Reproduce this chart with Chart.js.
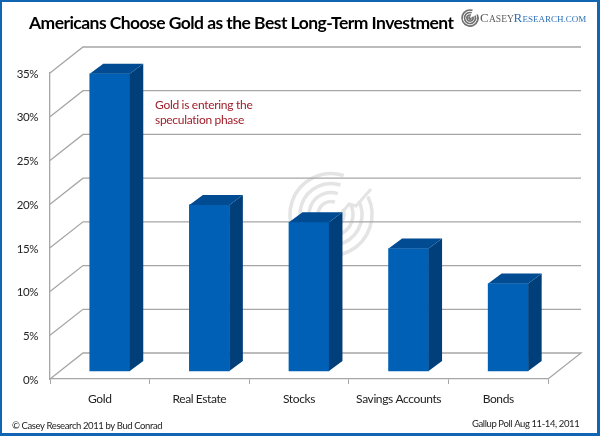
<!DOCTYPE html>
<html>
<head>
<meta charset="utf-8">
<script src="https://cdn.jsdelivr.net/npm/chart.js@4/dist/chart.umd.min.js"></script>
<style>
html, body { margin: 0; padding: 0; background: #fff; }
#wrap { width: 600px; height: 436px; }
canvas { display: block; }
</style>
</head>
<body>
<div id="wrap"><canvas id="goldChart" width="600" height="436"></canvas></div>
<script>
const categories = ['Gold', 'Real Estate', 'Stocks', 'Savings Accounts', 'Bonds'];
const shares = [34, 19, 17, 14, 10];
const yTicks = [0, 5, 10, 15, 20, 25, 30, 35];

const titleText = 'Americans Choose Gold as the Best Long-Term Investment';
const noteLines = ['Gold is entering the', 'speculation phase'];
const copyright = '\u00A9 Casey Research 2011 by Bud Conrad';
const source = 'Gallup Poll Aug 11-14, 2011';

const FONT = 'Lato, Carlito, "Open Sans", sans-serif';
const GRID = '#a6a6a6';
const WATERMARK = '#e4e4e4';
// the fake 3d: how far the back wall sits behind the front edge
const WALL_DX = 33;
const WALL_DY = 26;
const BAR_DX = 13.5;
const BAR_DY = 10;

function rings(ctx, cx, cy, radii, width, color) {
    ctx.strokeStyle = color;
    ctx.lineWidth = width;
    radii.forEach(function(r) {
        ctx.beginPath();
        ctx.arc(cx, cy, r, -0.144 * Math.PI, 1.6 * Math.PI);
        ctx.stroke();
    });
}

const background3d = {
    id: 'background3d',
    beforeDraw(chart) {
        // Lato runs wider than the original font
        chart.ctx.letterSpacing = '-0.4px';
    },
    beforeDatasetsDraw(chart) {
        const ctx = chart.ctx;
        const y = chart.scales.y;
        const a = chart.chartArea;
        ctx.save();

        // watermark behind the bars
        rings(ctx, 331, 214.5, [41, 31, 22, 13], 3.5, WATERMARK);
        ctx.strokeStyle = WATERMARK;
        ctx.lineWidth = 3;
        ctx.beginPath();
        ctx.moveTo(338, 218);
        ctx.lineTo(349, 204);
        ctx.lineTo(356, 206);
        ctx.lineTo(371, 189);
        ctx.stroke();

        // side wall diagonals and back wall lines
        ctx.strokeStyle = GRID;
        ctx.lineWidth = 1.3;
        yTicks.forEach(function(t) {
            const py = y.getPixelForValue(t);
            ctx.beginPath();
            ctx.moveTo(a.left, py);
            ctx.lineTo(a.left + WALL_DX, py - WALL_DY);
            ctx.lineTo(a.right + WALL_DX, py - WALL_DY);
            if (t === 0) ctx.lineTo(a.right, py);
            ctx.stroke();
        });
        ctx.restore();
    }
};

const barDepth = {
    id: 'barDepth',
    afterDatasetsDraw(chart) {
        const ctx = chart.ctx;
        chart.getDatasetMeta(0).data.forEach(function(bar) {
            const l = bar.x - bar.width / 2;
            const r = bar.x + bar.width / 2;
            ctx.fillStyle = '#003f7a';
            ctx.beginPath();
            ctx.moveTo(r, bar.y);
            ctx.lineTo(r + BAR_DX, bar.y - BAR_DY);
            ctx.lineTo(r + BAR_DX, bar.base - BAR_DY);
            ctx.lineTo(r, bar.base);
            ctx.closePath();
            ctx.fill();
            ctx.fillStyle = '#004b92';
            ctx.beginPath();
            ctx.moveTo(l, bar.y);
            ctx.lineTo(l + BAR_DX, bar.y - BAR_DY);
            ctx.lineTo(r + BAR_DX, bar.y - BAR_DY);
            ctx.lineTo(r, bar.y);
            ctx.closePath();
            ctx.fill();
        });
    }
};

const decorations = {
    id: 'decorations',
    afterDraw(chart) {
        const ctx = chart.ctx;
        ctx.save();
        ctx.textBaseline = 'alphabetic';
        ctx.textAlign = 'left';

        ctx.fillStyle = '#000';
        ctx.font = 'bold 17.5px ' + FONT;
        ctx.letterSpacing = '-0.55px';
        ctx.fillText(titleText, 29, 29);

        ctx.letterSpacing = '-0.3px';
        ctx.fillStyle = '#a0202c';
        ctx.font = '12px ' + FONT;
        ctx.fillText(noteLines[0], 155, 109);
        ctx.fillText(noteLines[1], 155, 124);

        ctx.letterSpacing = '-0.4px';
        ctx.fillStyle = '#222';
        ctx.font = '9.5px ' + FONT;
        ctx.fillText(copyright, 12, 429);
        ctx.fillText(source, 472, 427);

        // logo, top right
        ctx.letterSpacing = '0px';
        rings(ctx, 470, 18, [8, 5.5, 3, 1], 1.7, '#707070');
        ctx.font = '13px "Liberation Serif", serif';
        ctx.fillStyle = '#5c5c5c';
        ctx.fillText('C', 480, 22);
        ctx.font = '9.5px "Liberation Serif", serif';
        ctx.fillText('ASEY', 489, 22);
        ctx.fillStyle = '#2f72b8';
        ctx.font = '13px "Liberation Serif", serif';
        ctx.fillText('R', 513.5, 22);
        ctx.font = '9px "Liberation Serif", serif';
        ctx.fillText('ESEARCH.COM', 522.5, 22);

        // frame, a little heavier on the right and bottom
        ctx.fillStyle = '#1165b2';
        ctx.fillRect(0, 0, 600, 2);
        ctx.fillRect(0, 0, 2, 436);
        ctx.fillRect(597, 0, 3, 436);
        ctx.fillRect(0, 433, 600, 3);
        ctx.restore();
    }
};

new Chart(document.getElementById('goldChart').getContext('2d'), {
    type: 'bar',
    data: {
        labels: categories,
        datasets: [{
            label: 'Share',
            data: shares.map(function(v, i) { return { x: i, y: v }; }),
            xAxisID: 'xBars',
            yAxisID: 'yBars',
            backgroundColor: '#0060b5',
            barThickness: 40,
            borderWidth: 0
        }]
    },
    plugins: [background3d, barDepth, decorations],
    options: {
        responsive: false,
        animation: false,
        layout: { padding: { left: 0, top: 73, right: 52, bottom: 0 } },
        plugins: { legend: { display: false }, tooltip: { enabled: false } },
        scales: {
            x: {
                type: 'category',
                labels: categories,
                afterFit(scale) { scale.height = 57; },
                grid: { drawOnChartArea: false, color: GRID, tickLength: 5 },
                border: { color: GRID, width: 1.3 },
                ticks: { color: '#222', font: { family: FONT, size: 12 }, padding: 8, maxRotation: 0, autoSkip: false }
            },
            y: {
                min: 0,
                max: 35,
                afterFit(scale) { scale.width = 50; },
                afterBuildTicks(scale) { scale.ticks = yTicks.map(function(v) { return { value: v }; }); },
                grid: { drawOnChartArea: false, color: GRID, tickLength: 0 },
                border: { color: GRID, width: 1.3 },
                ticks: {
                    color: '#222',
                    font: { family: FONT, size: 11.5 },
                    padding: 12,
                    labelOffset: 1,
                    callback: function(v) { return v + '%'; }
                }
            },
            // bars stand in from the floor edge: 8px up and 10px right of the tick centres
            xBars: {
                type: 'linear',
                display: false,
                offset: false,
                min: -0.6,
                max: 4.4
            },
            yBars: {
                display: false,
                min: -0.915,
                max: 34.085
            }
        }
    }
});
</script>
</body>
</html>
